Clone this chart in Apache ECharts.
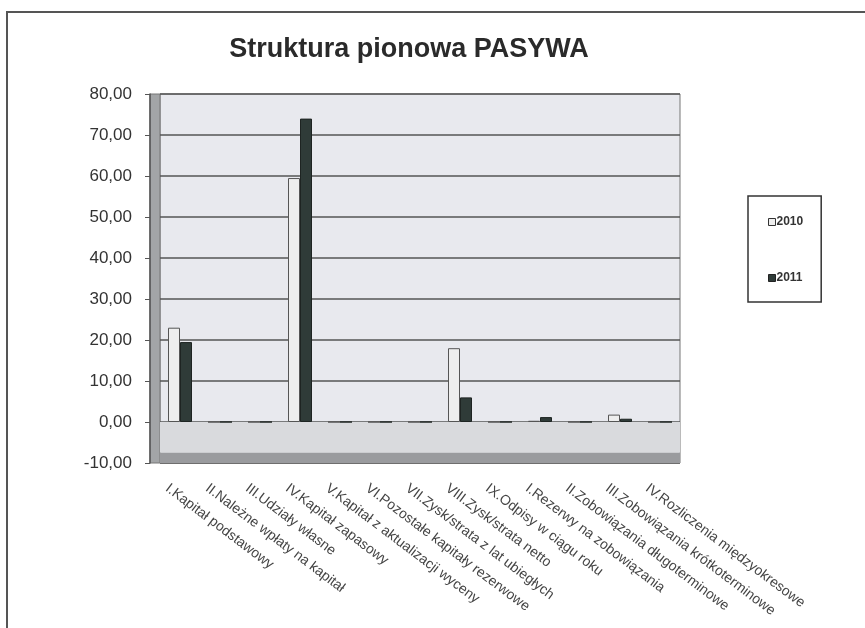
<!DOCTYPE html>
<html>
<head>
<meta charset="utf-8">
<script src="https://cdn.jsdelivr.net/npm/echarts@6/dist/echarts.min.js"></script>
<style>
  html, body { margin: 0; padding: 0; background: #fff; }
  #main { width: 865px; height: 628px; }
</style>
</head>
<body>
<div id="main"></div>
<script>
// kategorie pasywów
var categories = [
    'I.Kapitał podstawowy',
    'II.Należne wpłaty na kapitał',
    'III.Udziały własne',
    'IV.Kapitał zapasowy',
    'V.Kapitał z aktualizacji wyceny',
    'VI.Pozostałe kapitały rezerwowe',
    'VII.Zysk/strata z lat ubiegłych',
    'VIII.Zysk/strata netto',
    'IX.Odpisy w ciągu roku',
    'I.Rezerwy na zobowiązania',
    'II.Zobowiązania długoterminowe',
    'III.Zobowiązania krótkoterminowe',
    'IV.Rozliczenia międzyokresowe'
];
var values2010 = [23.0, 0, 0, 59.5, 0, 0, 0, 18.0, 0, 0.3, 0, 1.8, 0];
var values2011 = [19.5, 0, 0, 74.0, 0, 0, 0, 6.0, 0, 1.2, 0, 0.8, 0];
var yMin = -10, yMax = 80, yStep = 10;

var fmt = function (v) { return v.toFixed(2).replace('.', ','); };

var myChart = echarts.init(document.getElementById('main'));
var option = {
    backgroundColor: '#fff',
    title: {
        text: 'Struktura pionowa PASYWA',
        left: 404,
        textAlign: 'center',
        top: 31,
        textStyle: {
            fontFamily: 'Liberation Sans',
            fontSize: 27,
            fontWeight: 'bold',
            color: '#2a2a2a'
        }
    },
    graphic: [
        {
            type: 'rect',
            shape: { x: 7, y: 12, width: 900, height: 700 },
            style: { fill: 'none', stroke: '#555', lineWidth: 2 },
            silent: true
        }
    ],
    legend: {
        orient: 'vertical',
        left: 748,
        top: 196,
        padding: [20, 18, 18, 20],
        itemGap: 44,
        itemWidth: 7,
        itemHeight: 7,
        icon: 'rect',
        borderColor: '#333',
        borderWidth: 1.5,
        backgroundColor: '#fff',
        textStyle: {
            fontFamily: 'Liberation Sans',
            fontSize: 12,
            fontWeight: 'bold',
            color: '#333',
            padding: [0, 0, 0, -4]
        },
        data: [
            { name: '2010', itemStyle: { color: '#eeeeee', borderColor: '#333', borderWidth: 1 } },
            { name: '2011', itemStyle: { color: '#2f3b38', borderColor: '#222', borderWidth: 1 } }
        ]
    },
    grid: [
        {
            // tylna ściana
            left: 160,
            right: 185,
            top: 94,
            bottom: 165,
            show: true,
            backgroundColor: '#e8e9ee',
            borderColor: '#777',
            borderWidth: 1
        },
        {
            // lewa ściana
            left: 150,
            width: 10,
            top: 94,
            bottom: 165,
            show: true,
            backgroundColor: '#a3a5a7',
            borderColor: '#777',
            borderWidth: 1
        },
        {
            // przednia krawędź (etykiety kategorii)
            left: 147,
            right: 198,
            top: 94,
            bottom: 165
        }
    ],
    xAxis: [
        {
            type: 'category',
            gridIndex: 0,
            data: categories,
            axisLine: { show: false },
            axisTick: { show: false },
            axisLabel: { show: false }
        },
        { type: 'value', gridIndex: 1, show: false },
        {
            type: 'category',
            gridIndex: 2,
            data: categories,
            axisLine: { show: false },
            axisTick: { show: false },
            axisLabel: {
                interval: 0,
                rotate: -37,
                margin: 24,
                fontFamily: 'Liberation Sans',
                fontSize: 14,
                color: '#444'
            }
        }
    ],
    yAxis: [
        {
            type: 'value',
            gridIndex: 0,
            min: yMin,
            max: yMax,
            interval: yStep,
            offset: 10,
            axisLine: { show: true, lineStyle: { color: '#555', width: 1.5 } },
            axisTick: { show: true, length: 5, lineStyle: { color: '#555' } },
            axisLabel: {
                margin: 18,
                fontFamily: 'Liberation Sans',
                fontSize: 17,
                color: '#333',
                formatter: fmt
            },
            splitLine: { show: true, lineStyle: { color: '#555', width: 1.5 } }
        },
        { type: 'value', gridIndex: 1, show: false, min: yMin, max: yMax },
        { type: 'value', gridIndex: 2, show: false, min: yMin, max: yMax }
    ],
    series: [
        {
            name: '2010',
            type: 'bar',
            barWidth: 12,
            barGap: '0%',
            itemStyle: { color: '#eeeeee', borderColor: '#555', borderWidth: 1 },
            data: values2010,
            markArea: {
                silent: true,
                data: [
                    [{ yAxis: yMin + 2.5, itemStyle: { color: '#d9dadd' } }, { yAxis: 0 }],
                    [{ yAxis: yMin, itemStyle: { color: '#9a9b9e' } }, { yAxis: yMin + 2.5 }]
                ]
            }
        },
        {
            name: '2011',
            type: 'bar',
            barWidth: 12,
            itemStyle: { color: '#2f3b38', borderColor: '#1e2422', borderWidth: 1 },
            data: values2011
        }
    ]
};
myChart.setOption(option);
</script>
</body>
</html>
